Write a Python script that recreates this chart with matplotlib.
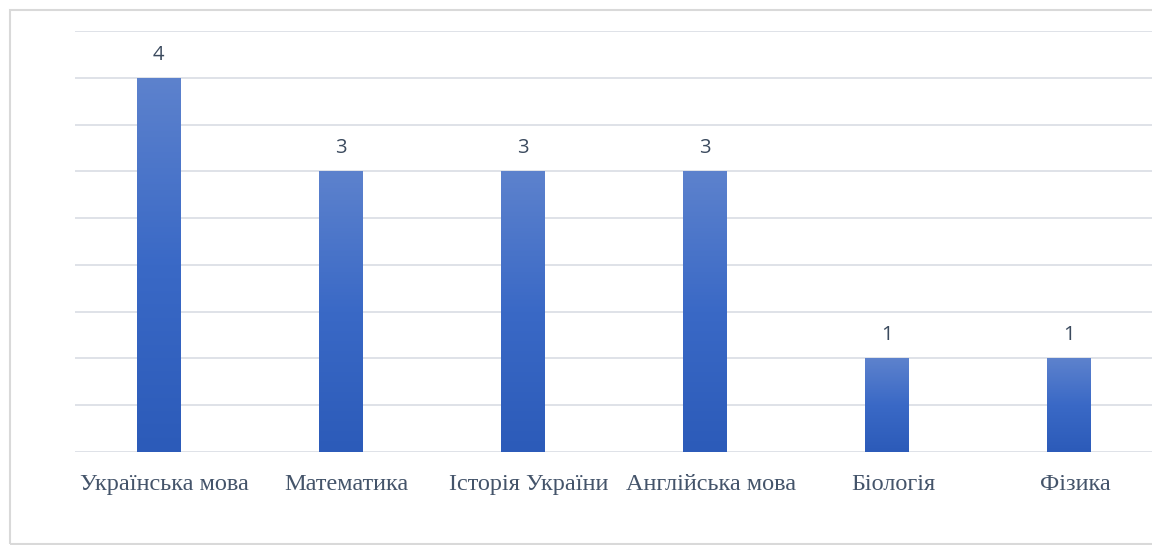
import numpy as np
import matplotlib.pyplot as plt
import matplotlib.patches as patches
import matplotlib.transforms as mtransforms

# data
categories = ["Українська мова", "Математика", "Історія України",
              "Англійська мова", "Біологія", "Фізика"]
values = [4, 3, 3, 3, 1, 1]

fig = plt.figure(figsize=(11.52, 5.45), dpi=100)

# outer chart frame
fig.patches.append(patches.Rectangle((10 / 1152, 1 / 545), 1.2, (534) / 545,
                                     transform=fig.transFigure, fill=False,
                                     edgecolor='#d9d9d9', linewidth=1.5))

ax = fig.add_axes([75 / 1152, 93 / 545, 1 - 75 / 1152, 421 / 545])
x = np.arange(len(categories))

# gridlines
ax.set_yticks(np.arange(0, 4.51, 0.5))
ax.yaxis.grid(True, color='#dcdfe6', linewidth=1.3)
ax.set_axisbelow(True)
ax.tick_params(axis='y', length=0, labelleft=False)
ax.tick_params(axis='x', length=0)
for s in ax.spines.values():
    s.set_visible(False)

# bars with vertical gradient
bars = ax.bar(x, values, width=0.24, color='#3f6cc4', edgecolor='none')
grad = np.linspace(0, 1, 256).reshape(-1, 1)
cmap = plt.matplotlib.colors.LinearSegmentedColormap.from_list(
    'g', ['#2c5bb9', '#3a69c6', '#5d82cd'])
for b in bars:
    x0, w, h = b.get_x(), b.get_width(), b.get_height()
    im = ax.imshow(grad, extent=[x0, x0 + w, 0, h], origin='lower',
                   cmap=cmap, aspect='auto', zorder=2)
    im.set_clip_path(b)
    ax.text(x0 + w / 2, h + 0.14, str(int(h)), ha='center', va='bottom',
            fontsize=14.5, color='#3b4a5e', family='Open Sans')
ax.set_xlim(-0.46, 5.456)
ax.set_ylim(0, 4.5)

ax.set_xticks(x)
ax.set_xticklabels(categories, fontsize=17.5, family='Liberation Serif',
                   color='#44546a')
ax.tick_params(axis='x', pad=16)
shift = mtransforms.ScaledTranslation(6 / 100, 0, fig.dpi_scale_trans)
for lbl in ax.get_xticklabels():
    lbl.set_transform(lbl.get_transform() + shift)

fig.savefig('out.png', dpi=100)
